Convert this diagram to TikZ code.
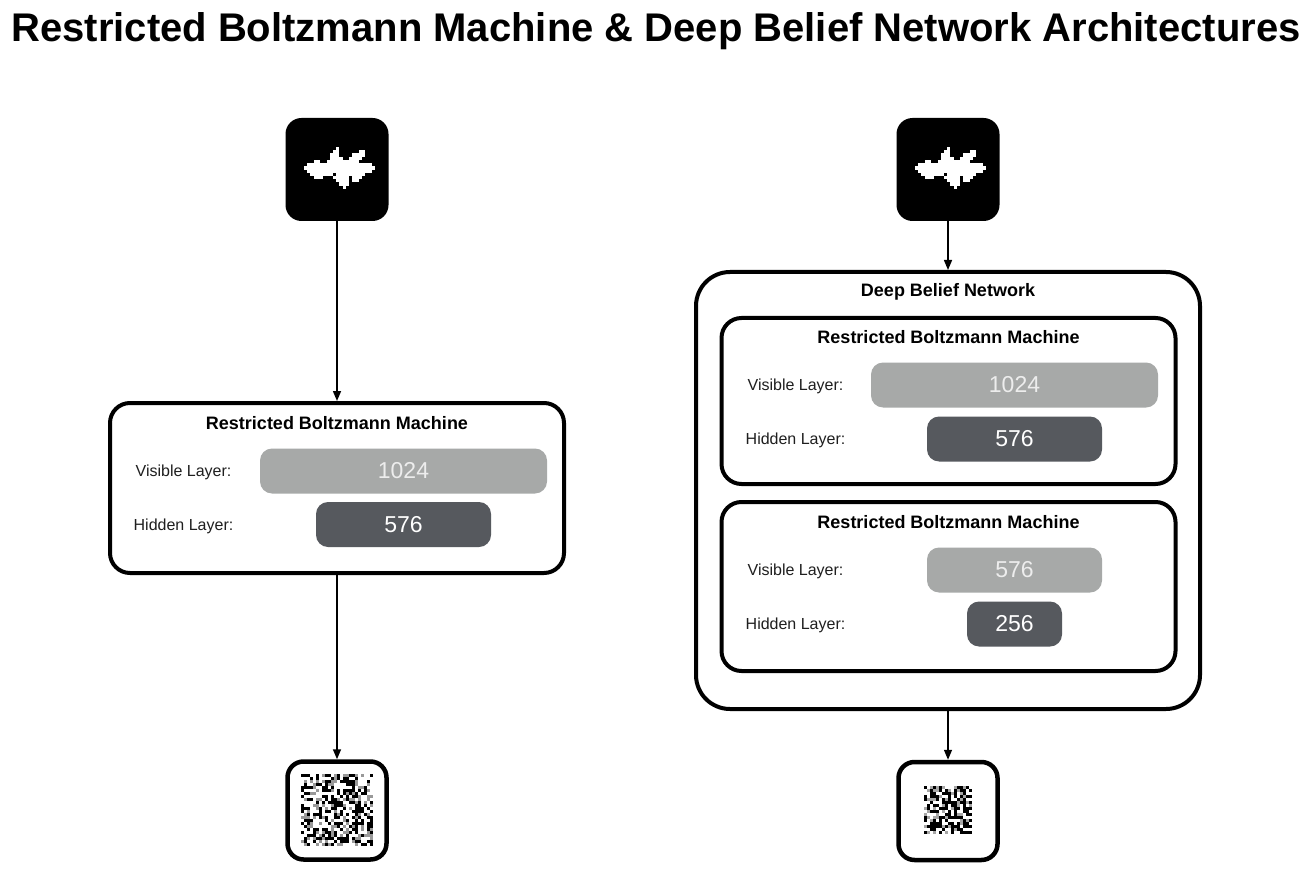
\documentclass[tikz,border=0pt]{standalone}
\usepackage{fontspec}
\setmainfont{Liberation Sans}
\usetikzlibrary{arrows.meta}
\definecolor{lightbar}{HTML}{A7A9A8}
\definecolor{darkbar}{HTML}{56595E}
\tikzset{
  inicon/.style={fill=black, rounded corners=16pt, minimum width=103pt, minimum height=103pt, inner sep=0pt},
  outicon/.style={draw=black, line width=4.5pt, fill=white, rounded corners=16pt, minimum width=99pt, minimum height=98pt, inner sep=0pt},
  rbmbox/.style={draw=black, line width=4pt, fill=white, rounded corners=20pt, inner sep=0pt},
  boxtitle/.style={font=\bfseries\fontsize{18}{21}\selectfont},
  layerlabel/.style={font=\fontsize{16}{19}\selectfont, text=black!88},
  visbar/.style={fill=lightbar, rounded corners=12pt, minimum height=45pt, inner sep=0pt, text=white!93!black, font=\fontsize{23}{27}\selectfont},
  hidbar/.style={fill=darkbar, rounded corners=12pt, minimum height=45pt, inner sep=0pt, text=white, font=\fontsize{23}{27}\selectfont},
  flow/.style={line width=1.5pt, -{Triangle[length=10pt,width=8pt]}},
}
\begin{document}
\begin{tikzpicture}[x=1pt,y=1pt,yscale=-1,xscale=1]
\path[use as bounding box] (0,0) rectangle (1308,890);

% Title
\node[font=\bfseries\fontsize{40}{48}\selectfont] (title) at (656,31) {Restricted Boltzmann Machine \& Deep Belief Network Architectures};

%%%%% left column: single RBM
% input image
\node[inicon] (inL) at (337,169.5) {};
\begin{scope}[shift={(304pt,147pt)}, x=3.22pt, y=3.22pt]
\foreach \r/\a/\b in {0/10/10,1/9/10,1/17/18,2/8/10,2/15/18,3/8/11,3/14/17,4/3/4,4/7/16,5/1/20,6/0/21,7/1/20,8/2/8,8/10/18,9/3/5,9/9/13,9/15/17,10/10/13,10/15/16,11/11/13,12/12/12}
  \fill[white] (\a,\r) rectangle (\b+1,\r+1);
\end{scope}

% RBM box
\node[rbmbox, minimum width=454pt, minimum height=170pt] (rbmL) at (337,488) {};
\node[boxtitle] (rbmLtitle) at (337,423) {Restricted Boltzmann Machine};
\node[layerlabel] (visLlab) at (183.5,472) {Visible Layer:};
\node[visbar, minimum width=287pt] (visL) at (403.5,471) {1024};
\node[layerlabel] (hidLlab) at (183.5,526) {Hidden Layer:};
\node[hidbar, minimum width=175pt] (hidL) at (403.5,524.5) {576};

% output image
\node[outicon] (outL) at (337,810.5) {};
\begin{scope}[shift={(301pt,774pt)}, x=3pt, y=3pt]
\pgfmathsetseed{42}
\foreach \i in {0,...,23}
  \foreach \j in {0,...,23} {
    \pgfmathrandominteger{\rr}{0}{99}
    \pgfmathtruncatemacro{\g}{\rr<44 ? 0 : (\rr>62 ? 100 : 40)}
    \fill[black!\g] (\i,\j) rectangle +(1.05,1.05);
  }
\end{scope}

\draw[flow] (inL.south) -- (rbmL.north);
\draw[flow] (rbmL.south) -- (outL.north);

%%%%% right column: deep belief network
% input image
\node[inicon] (inR) at (948,169.5) {};
\begin{scope}[shift={(915pt,147pt)}, x=3.22pt, y=3.22pt]
\foreach \r/\a/\b in {0/10/10,1/9/10,1/17/18,2/8/10,2/15/18,3/8/11,3/14/17,4/3/4,4/7/16,5/1/20,6/0/21,7/1/20,8/2/8,8/10/18,9/3/5,9/9/13,9/15/17,10/10/13,10/15/16,11/11/13,12/12/12}
  \fill[white] (\a,\r) rectangle (\b+1,\r+1);
\end{scope}

% DBN box
\node[rbmbox, rounded corners=34pt, minimum width=504pt, minimum height=437pt] (dbn) at (948,490.5) {};
\node[boxtitle] (dbntitle) at (948,292) {Deep Belief Network};

% first RBM
\node[rbmbox, minimum width=454pt, minimum height=166pt] (rbmA) at (948.5,401) {};
\node[boxtitle] (rbmAtitle) at (948.5,337) {Restricted Boltzmann Machine};
\node[layerlabel] (visAlab) at (795.5,386) {Visible Layer:};
\node[visbar, minimum width=287pt] (visA) at (1014.5,385) {1024};
\node[layerlabel] (hidAlab) at (795.5,440) {Hidden Layer:};
\node[hidbar, minimum width=175pt] (hidA) at (1014.5,439) {576};

% second RBM
\node[rbmbox, minimum width=454pt, minimum height=169pt] (rbmB) at (948.5,586.5) {};
\node[boxtitle] (rbmBtitle) at (948.5,522) {Restricted Boltzmann Machine};
\node[layerlabel] (visBlab) at (795.5,571.5) {Visible Layer:};
\node[visbar, minimum width=175pt] (visB) at (1014.5,570) {576};
\node[layerlabel] (hidBlab) at (795.5,625.5) {Hidden Layer:};
\node[hidbar, minimum width=95pt] (hidB) at (1014.5,624) {256};

% output image
\node[outicon] (outR) at (948,811) {};
\begin{scope}[shift={(924pt,786pt)}, x=3pt, y=3pt]
\pgfmathsetseed{17}
\foreach \i in {0,...,15}
  \foreach \j in {0,...,15} {
    \pgfmathrandominteger{\rr}{0}{99}
    \pgfmathtruncatemacro{\g}{\rr<40 ? 0 : (\rr>56 ? 100 : 35)}
    \fill[black!\g] (\i,\j) rectangle +(1.05,1.05);
  }
\end{scope}

\draw[flow] (inR.south) -- (dbn.north);
\draw[flow] (dbn.south) -- (outR.north);

\end{tikzpicture}
\end{document}
